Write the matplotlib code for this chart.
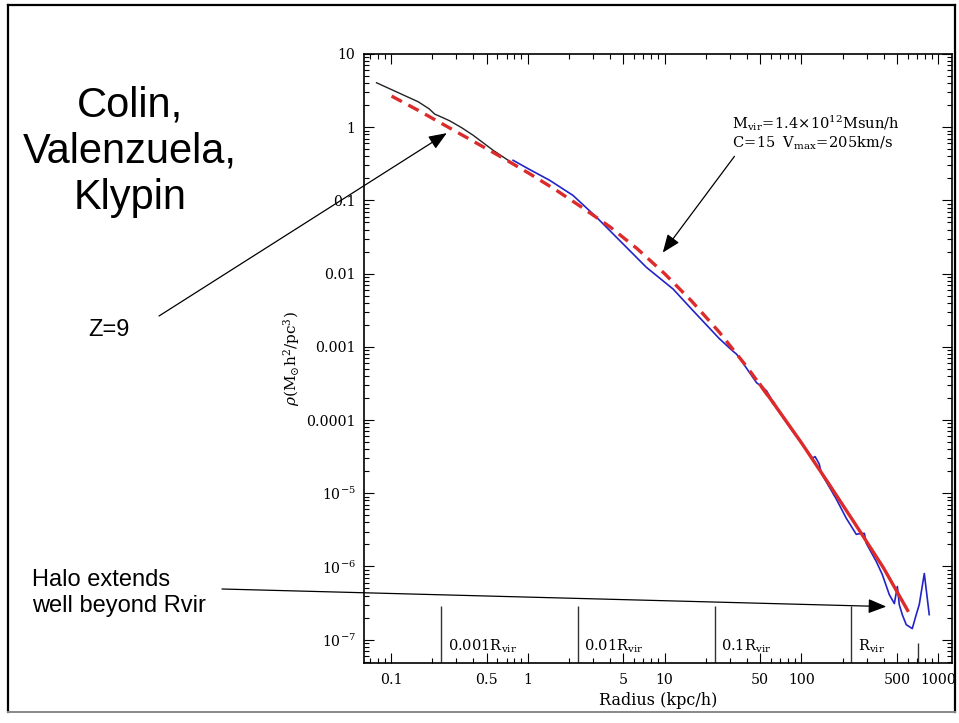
import numpy as np
import matplotlib
matplotlib.use('Agg')
import matplotlib.pyplot as plt
from matplotlib.ticker import FixedLocator, FixedFormatter, LogLocator, NullFormatter
from matplotlib.lines import Line2D

plt.rcParams['mathtext.fontset'] = 'dejavuserif'
plt.rcParams['font.family'] = 'DejaVu Serif'

# density profile of the halo, log10(r [kpc/h]) and log10(rho)
inner_logr = [-1.105, -0.95, -0.80, -0.72, -0.679, -0.62, -0.569, -0.48, -0.399, -0.253, -0.107]
inner_logrho = [0.607, 0.475, 0.347, 0.25, 0.178, 0.13, 0.086, -0.01, -0.110, -0.315, -0.497]

outer_logr = [-0.107, 0.015, 0.161, 0.331, 0.502, 0.672, 0.867, 1.062, 1.2, 1.401, 1.50, 1.526,
              1.55, 1.672, 1.70, 1.72, 1.745, 1.818, 1.934, 2.08, 2.10, 2.13, 2.146, 2.255,
              2.328, 2.401, 2.43, 2.460, 2.474, 2.547, 2.591, 2.642, 2.679, 2.701, 2.715,
              2.737, 2.766, 2.810, 2.839, 2.861, 2.898, 2.934]
outer_logrho = [-0.452, -0.579, -0.726, -0.932, -1.229, -1.548, -1.914, -2.21, -2.49, -2.89, -3.06, -3.10,
                -3.16, -3.49, -3.53, -3.56, -3.60, -3.84, -4.15, -4.52, -4.50, -4.60, -4.73, -5.08,
                -5.342, -5.562, -5.55, -5.548, -5.685, -5.932, -6.110, -6.384, -6.507, -6.274, -6.521,
                -6.658, -6.795, -6.849, -6.658, -6.521, -6.096, -6.658]

# NFW fit (dashed) and its outer part (solid)
fit_logr = [-0.995, -0.8, -0.6, -0.4, -0.2, 0.0, 0.2, 0.4, 0.6, 0.8, 1.0, 1.2, 1.4, 1.6, 1.8]
fit_logrho = [0.425, 0.23, 0.02, -0.19, -0.40, -0.62, -0.85, -1.10, -1.36, -1.66, -2.00, -2.38, -2.80, -3.27, -3.78]
fit_out_logr = [1.7, 1.8, 2.0, 2.2, 2.4, 2.6, 2.776]
fit_out_logrho = [-3.52, -3.78, -4.31, -4.87, -5.44, -6.02, -6.60]

rvir = 232.0
rvir_fracs = [0.001, 0.01, 0.1, 1.0]
rvir_labels = [r'$0.001\mathrm{R_{vir}}$', r'$0.01\mathrm{R_{vir}}$', r'$0.1\mathrm{R_{vir}}$', r'$\mathrm{R_{vir}}$']

xticks = [0.1, 0.5, 1, 5, 10, 50, 100, 500, 1000]
xticklabels = ['0.1', '0.5', '1', '5', '10', '50', '100', '500', '1000']
yticks = [1e-7, 1e-6, 1e-5, 1e-4, 1e-3, 1e-2, 1e-1, 1, 10]
yticklabels = [r'$10^{-7}$', r'$10^{-6}$', r'$10^{-5}$', '0.0001', '0.001', '0.01', '0.1', '1', '10']

W, H = 959, 723
fig = plt.figure(figsize=(W / 100, H / 100), dpi=100)
ax = fig.add_axes([364 / W, 1 - 663 / H, (952 - 364) / W, (663 - 54) / H])

ax.plot(10 ** np.array(inner_logr), 10 ** np.array(inner_logrho), color='#222222', lw=1.0)
ax.plot(10 ** np.array(outer_logr), 10 ** np.array(outer_logrho), color='#2323c8', lw=1.2)
ax.plot(10 ** np.array(fit_logr), 10 ** np.array(fit_logrho), color='#dd2a2a', lw=2.4,
        dashes=(3.5, 2.2))
ax.plot(10 ** np.array(fit_out_logr), 10 ** np.array(fit_out_logrho), color='#dd2a2a', lw=2.4)

ax.set_xscale('log')
ax.set_yscale('log')
ax.set_xlim(0.0636, 1260)
ax.set_ylim(4.8e-8, 10)

# markers at fractions of the virial radius
for f, lab in zip(rvir_fracs, rvir_labels):
    ax.vlines(f * rvir, 4.8e-8, 2.9e-7, color='#333333', lw=1.0)
    ax.text(f * rvir * 1.12, 8.0e-8, lab, fontsize=10.5, va='center', ha='left')
ax.vlines(715, 4.8e-8, 9.1e-8, color='#333333', lw=1.0)

ax.xaxis.set_major_locator(FixedLocator(xticks))
ax.xaxis.set_major_formatter(FixedFormatter(xticklabels))
ax.xaxis.set_minor_locator(LogLocator(base=10, subs=(2, 3, 4, 6, 7, 8, 9), numticks=20))
ax.xaxis.set_minor_formatter(NullFormatter())
ax.yaxis.set_major_locator(FixedLocator(yticks))
ax.yaxis.set_major_formatter(FixedFormatter(yticklabels))
ax.yaxis.set_minor_locator(LogLocator(base=10, subs=(2, 3, 4, 5, 6, 7, 8, 9), numticks=20))
ax.yaxis.set_minor_formatter(NullFormatter())
ax.tick_params(which='both', direction='in', top=True, right=True, width=0.8, labelsize=10.2)
ax.tick_params(which='major', length=7)
ax.tick_params(which='minor', length=3.5)
ax.tick_params(axis='x', pad=7)
ax.tick_params(axis='y', pad=6)
for s in ax.spines.values():
    s.set_linewidth(1.2)

ax.set_xlabel('Radius (kpc/h)', fontsize=11.5, labelpad=4)
ax.set_ylabel(r'$\rho(\mathrm{M_{\odot}h^2/pc^3})$', fontsize=11, labelpad=3)

ax.text(31.3, 1.13, r'$\mathrm{M_{vir}\!=\!1.4{\times}10^{12}Msun/h}$', fontsize=10.5, va='center')
ax.text(31.3, 0.60, r'$\mathrm{C\!=\!15\;\;V_{max}\!=\!205km/s}$', fontsize=10.5, va='center')

arrow = dict(arrowstyle='-|>,head_length=0.55,head_width=0.22', color='black', lw=0.9,
             mutation_scale=20, shrinkA=0, shrinkB=0)
ax.annotate('', xy=(9.7, 0.0194), xytext=(32.4, 0.40), arrowprops=arrow)
ax.annotate('', xy=(0.256, 0.83), xytext=(159 / W, 1 - 316 / H), textcoords='figure fraction',
            arrowprops=arrow, annotation_clip=False)
ax.annotate('', xy=(417, 2.83e-7), xytext=(222 / W, 1 - 589 / H), textcoords='figure fraction',
            arrowprops=arrow, annotation_clip=False)

# slide text
sans = ['Liberation Sans', 'DejaVu Sans']
fig.text(130 / W, 1 - 152 / H, 'Colin,\nValenzuela,\nKlypin', fontsize=30, family=sans,
         ha='center', va='center', multialignment='center')
fig.text(88 / W, 1 - 330 / H, 'Z=9', fontsize=17, family=sans, ha='left', va='center')
fig.text(32 / W, 1 - 593 / H, 'Halo extends\nwell beyond Rvir', fontsize=17, family=sans,
         ha='left', va='center')

# slide frame
fig.add_artist(Line2D([8 / W, 8 / W], [1 - 5 / H, 1 - 712 / H], color='black', lw=1.6))
fig.add_artist(Line2D([8 / W, 955 / W], [1 - 5 / H, 1 - 5 / H], color='black', lw=1.6))
fig.add_artist(Line2D([955 / W, 955 / W], [1 - 5 / H, 1 - 712 / H], color='black', lw=1.6))
fig.add_artist(Line2D([8 / W, 955 / W], [1 - 712 / H, 1 - 712 / H], color='#888888', lw=1.4))

fig.savefig('out.png', dpi=100)
